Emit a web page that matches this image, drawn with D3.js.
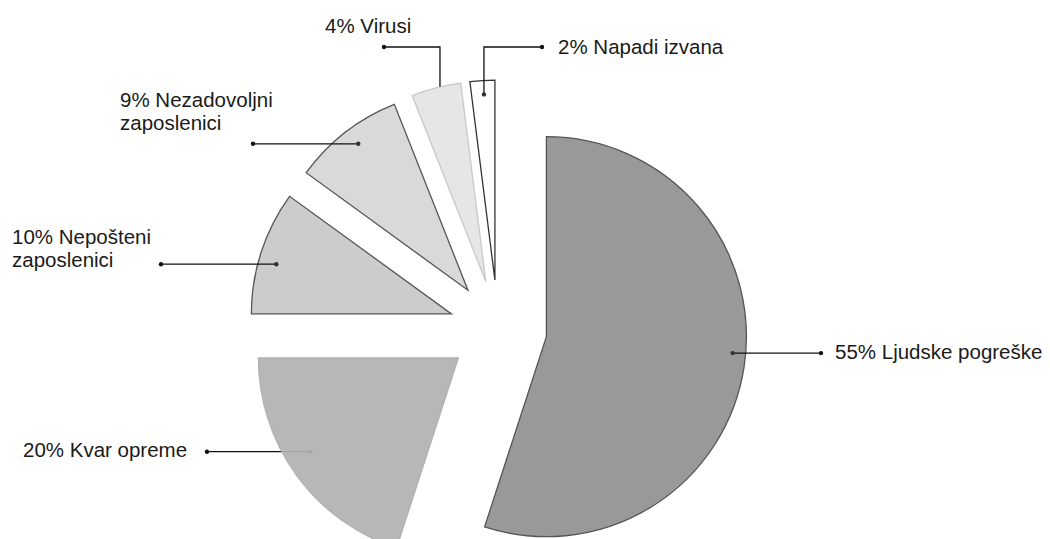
<!DOCTYPE html>
<html>
<head>
<meta charset="utf-8">
<script src="https://cdn.jsdelivr.net/npm/d3@7"></script>
<style>
  html, body { margin: 0; padding: 0; background: #fff; }
  svg { display: block; }
  text { font-family: "Liberation Sans", Arial, sans-serif; font-size: 20.5px; fill: #1a1a1a; }
</style>
</head>
<body>
<svg id="chart" width="1050" height="539"></svg>
<script>
// ---- data ----
const categories = ["Ljudske pogreške", "Kvar opreme", "Nepošteni zaposlenici", "Nezadovoljni zaposlenici", "Virusi", "Napadi izvana"];
const values = [55, 20, 10, 9, 4, 2];
const labelLines = [
  ["55% Ljudske pogreške"],
  ["20% Kvar opreme"],
  ["10% Nepošteni", "zaposlenici"],
  ["9% Nezadovoljni", "zaposlenici"],
  ["4% Virusi"],
  ["2% Napadi izvana"]
];

// ---- layout / style ----
const cx = 498, cy = 329, radius = 200, explode = 49;
const fills   = ["#999999", "#b2b2b2", "#cccccc", "#d9d9d9", "#e6e6e6", "#ffffff"];
const strokes = ["#555555", "#b2b2b2", "#555555", "#555555", "#c8c8c8", "#333333"];
// anchor: fraction along slice angle, fraction of radius
const anchorAngleFrac = [0.48, 0.55, 0.44, 0.53, 0.58, 0.53];
const anchorRadFrac   = [0.935, 0.876, 0.91, 0.915, 1.0, 0.93];
// label text positions
const labelX = [835, 23, 12, 120, 325, 558];
const labelY = [359, 457, 244, 107, 33, 54];
const leaderEndX = [821, 207, 161, 253, 384, 542];
const elbowY = [null, null, null, null, 47, 47];
const lineHeight = 23;

const svg = d3.select("#chart");
const pie = d3.pie().sort(null).value(d => d)(values);
const arc = d3.arc().innerRadius(0).outerRadius(radius);

const slices = pie.map((p, i) => {
  const mid = (p.startAngle + p.endAngle) / 2;
  const ox = cx + explode * Math.sin(mid);
  const oy = cy - explode * Math.cos(mid);
  const a = p.startAngle + anchorAngleFrac[i] * (p.endAngle - p.startAngle);
  const rr = anchorRadFrac[i] * radius;
  return { p, i, ox, oy, ax: ox + rr * Math.sin(a), ay: oy - rr * Math.cos(a) };
});

const gUnder = svg.append("g");
const gSlices = svg.append("g");
const gOver = svg.append("g");

function drawLeader(g, s) {
  const i = s.i;
  let pts;
  if (elbowY[i] != null) {
    pts = [[s.ax, s.ay], [s.ax, elbowY[i]], [leaderEndX[i], elbowY[i]]];
  } else {
    pts = [[s.ax, s.ay], [leaderEndX[i], s.ay]];
  }
  g.append("path")
    .attr("d", d3.line()(pts))
    .attr("fill", "none")
    .attr("stroke", "#111")
    .attr("stroke-width", 1.3);
  g.append("circle").attr("cx", leaderEndX[i]).attr("cy", pts[pts.length - 1][1]).attr("r", 2.2).attr("fill", "#111");
  if (i !== 4) {
    g.append("circle").attr("cx", s.ax).attr("cy", s.ay).attr("r", 2.2).attr("fill", "#333");
  }
}

// leader of the 20% slice lies under the slice (shows faintly through it)
slices.forEach(s => { if (s.i === 1) drawLeader(gUnder, s); });

gSlices.selectAll("path")
  .data(slices)
  .join("path")
  .attr("transform", d => `translate(${d.ox},${d.oy})`)
  .attr("d", d => arc(d.p))
  .attr("fill", d => fills[d.i])
  .attr("fill-opacity", d => d.i === 1 ? 0.93 : 1)
  .attr("stroke", d => strokes[d.i])
  .attr("stroke-width", 1.3)
  .attr("stroke-linejoin", "miter");

slices.forEach(s => { if (s.i !== 1) drawLeader(gOver, s); });

// labels
slices.forEach(s => {
  const t = gOver.append("text").attr("x", labelX[s.i]).attr("y", labelY[s.i]);
  labelLines[s.i].forEach((ln, k) => {
    t.append("tspan").attr("x", labelX[s.i]).attr("dy", k === 0 ? 0 : lineHeight).text(ln);
  });
});
</script>
</body>
</html>
